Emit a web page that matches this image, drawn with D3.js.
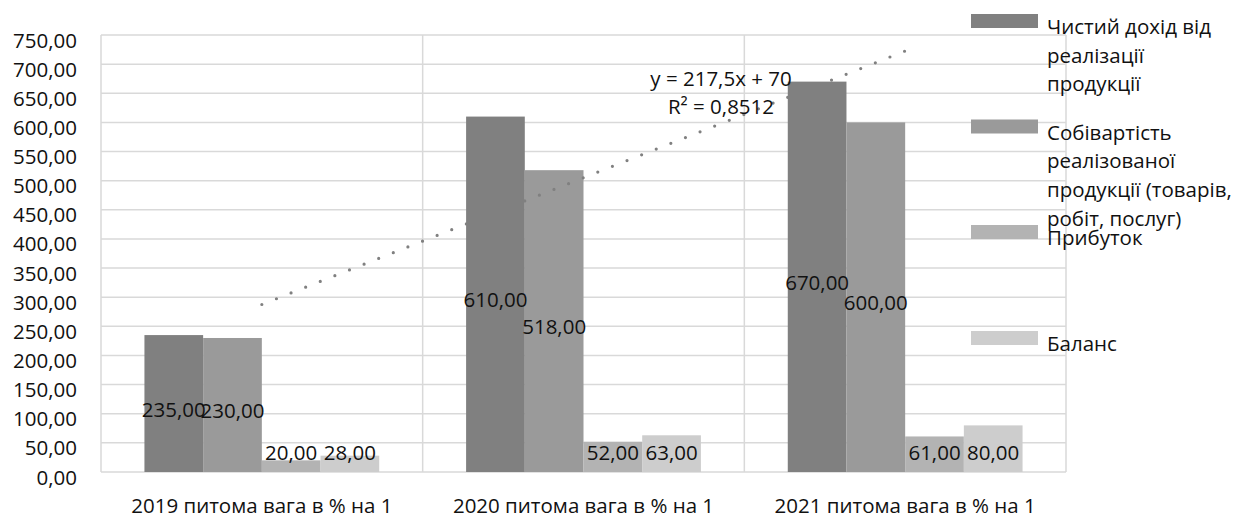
<!DOCTYPE html>
<html>
<head>
<meta charset="utf-8">
<script src="https://cdn.jsdelivr.net/npm/d3@7/dist/d3.min.js"></script>
<style>
  html, body { margin: 0; padding: 0; background: #fff; }
  svg { display: block; font-family: "Open Sans", sans-serif; }
  text { fill: #111; font-size: 20.5px; }
</style>
</head>
<body>
<svg id="chart" width="1238" height="518"></svg>
<script>
// Categories (years) and the four series, in thousand UAH
const categories = [
  "2019 питома вага в % на 1",
  "2020 питома вага в % на 1",
  "2021 питома вага в % на 1"
];
const seriesNames = [
  "Чистий дохід від реалізації продукції",
  "Собівартість реалізованої продукції (товарів, робіт, послуг)",
  "Прибуток",
  "Баланс"
];
const legendLines = [
  ["Чистий дохід від", "реалізації", "продукції"],
  ["Собівартість", "реалізованої", "продукції (товарів,", "робіт, послуг)"],
  ["Прибуток"],
  ["Баланс"]
];
const netRevenue = [235, 610, 670];
const costOfSales = [230, 518, 600];
const profit = [20, 52, 61];
const balance = [28, 63, 80];
const yTicks = [0, 50, 100, 150, 200, 250, 300, 350, 400, 450, 500, 550, 600, 650, 700, 750];

const seriesValues = [netRevenue, costOfSales, profit, balance];
const colors = ["#808080", "#9a9a9a", "#b3b3b3", "#cdcdcd"];

const locale = d3.formatLocale({ decimal: ",", thousands: " ", grouping: [3], currency: ["", ""] });
const fmt2 = locale.format(".2f");

const svg = d3.select("#chart");
const plot = { left: 101, right: 1066, top: 35, bottom: 472 };

const x = d3.scaleBand().domain(categories).range([plot.left, plot.right]).padding(0);
const xs = d3.scaleBand().domain(seriesNames).range([0, x.bandwidth()])
  .paddingInner(0).paddingOuter(0.74);
const y = d3.scaleLinear().domain([0, 750]).range([plot.bottom, plot.top]);

// Horizontal gridlines
svg.append("g").selectAll("line").data(yTicks).join("line")
  .attr("x1", plot.left).attr("x2", plot.right)
  .attr("y1", d => y(d)).attr("y2", d => y(d))
  .attr("stroke", "#d9d9d9").attr("stroke-width", 1.5);

// Vertical category separators
const seps = [plot.left, ...categories.map(c => x(c) + x.bandwidth())];
svg.append("g").selectAll("line").data(seps).join("line")
  .attr("x1", d => d).attr("x2", d => d)
  .attr("y1", plot.top).attr("y2", plot.bottom)
  .attr("stroke", "#d9d9d9").attr("stroke-width", 1.5);

// Y axis labels
svg.append("g").selectAll("text").data(yTicks).join("text")
  .attr("x", 77).attr("y", d => y(d) + 12.5)
  .attr("text-anchor", "end")
  .text(d => fmt2(d));

// Category labels
svg.append("g").selectAll("text").data(categories).join("text")
  .attr("x", d => x(d) + x.bandwidth() / 2).attr("y", 513)
  .attr("text-anchor", "middle")
  .text(d => d);

// Bars
const flat = [];
categories.forEach((c, ci) => {
  seriesNames.forEach((s, si) => {
    flat.push({ cat: c, series: s, si, value: seriesValues[si][ci] });
  });
});

svg.append("g").selectAll("rect").data(flat).join("rect")
  .attr("x", d => x(d.cat) + xs(d.series))
  .attr("width", xs.bandwidth())
  .attr("y", d => y(d.value))
  .attr("height", d => y(0) - y(d.value))
  .attr("fill", d => colors[d.si]);

// Linear trendline fitted to net revenue (x = 1..n)
const n = netRevenue.length;
const xsIdx = d3.range(1, n + 1);
const mx = d3.mean(xsIdx), my = d3.mean(netRevenue);
const sxy = d3.sum(xsIdx, (xi, i) => (xi - mx) * (netRevenue[i] - my));
const sxx = d3.sum(xsIdx, xi => (xi - mx) ** 2);
const slope = sxy / sxx;
const intercept = my - slope * mx;
const ssRes = d3.sum(xsIdx, (xi, i) => (netRevenue[i] - (slope * xi + intercept)) ** 2);
const ssTot = d3.sum(netRevenue, v => (v - my) ** 2);
const r2 = 1 - ssRes / ssTot;

const xt = d3.scaleLinear().domain([1, n])
  .range([x(categories[0]) + x.bandwidth() / 2, x(categories[n - 1]) + x.bandwidth() / 2]);
const trendPts = [1, n].map(t => [xt(t), y(slope * t + intercept)]);

svg.append("path")
  .attr("d", d3.line()(trendPts))
  .attr("fill", "none")
  .attr("stroke", "#808080")
  .attr("stroke-width", 3.2)
  .attr("stroke-linecap", "round")
  .attr("stroke-dasharray", "0 15.7");

// Data labels
svg.append("g").selectAll("text").data(flat).join("text")
  .attr("x", d => x(d.cat) + xs(d.series) + xs.bandwidth() / 2)
  .attr("y", d => Math.min((y(d.value) + y(0)) / 2 + 13, y(0) - 12))
  .attr("text-anchor", "middle")
  .text(d => fmt2(d.value));

// Trendline equation
const eq = svg.append("g").attr("transform", "translate(721,0)");
eq.append("text").attr("y", 86).attr("text-anchor", "middle")
  .text(`y = ${locale.format("~f")(+slope.toFixed(4))}x + ${locale.format("~f")(+intercept.toFixed(4))}`);
eq.append("text").attr("y", 114).attr("text-anchor", "middle")
  .text(`R² = ${locale.format(".4f")(r2)}`);

// Legend
const legend = svg.append("g");
const legendTop = [14, 119.5, 225, 331];
seriesNames.forEach((s, i) => {
  const g = legend.append("g").attr("transform", `translate(971,${legendTop[i]})`);
  g.append("rect").attr("width", 67).attr("height", 14).attr("fill", colors[i]);
  g.selectAll("text").data(legendLines[i]).join("text")
    .attr("x", 76).attr("y", (d, j) => 20 + j * 28.7)
    .text(d => d);
});
</script>
</body>
</html>
